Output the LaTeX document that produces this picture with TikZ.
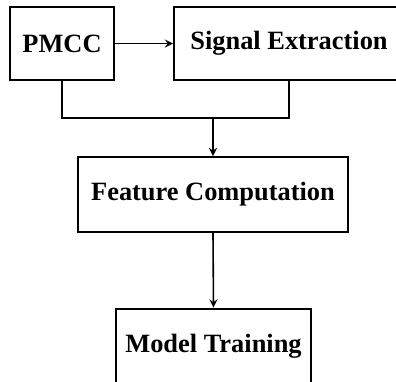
\documentclass[tikz,border=0pt]{standalone}
\usepackage{fontspec}
\setmainfont{Liberation Serif}
\usetikzlibrary{arrows}

\begin{document}
\begin{tikzpicture}[x=0.5pt, y=-0.5pt,
        block/.style={draw, line width=1pt, minimum height=36.5pt,
          inner sep=0pt, font=\fontsize{13.2}{15}\selectfont\bfseries},
        link/.style={line width=0.8pt}, >=stealth]
      \clip (0,0) rectangle (396,381);
      \node (pmcc) at (62,43.5) [block, minimum width=52pt] {PMCC};
      \node (sig) at (289,43.5) [block, minimum width=115pt] {Signal Extraction};
      \node (feat) at (213,194.5) [block, minimum width=135pt, minimum height=37.5pt] {Feature Computation};
      \node (model) at (213.5,346.5) [block, minimum width=97.5pt, minimum height=38pt] {Model Training};
      \coordinate (join) at (213,118);
      \draw[link,->] (pmcc.east) -- (sig.west);
      \draw[link] (pmcc.south) |- (join) -| (sig.south);
      \draw[link,->] (join) -- (feat.north);
      \draw[link,->] (feat.south) -- (model.north);
    \end{tikzpicture}
\end{document}
